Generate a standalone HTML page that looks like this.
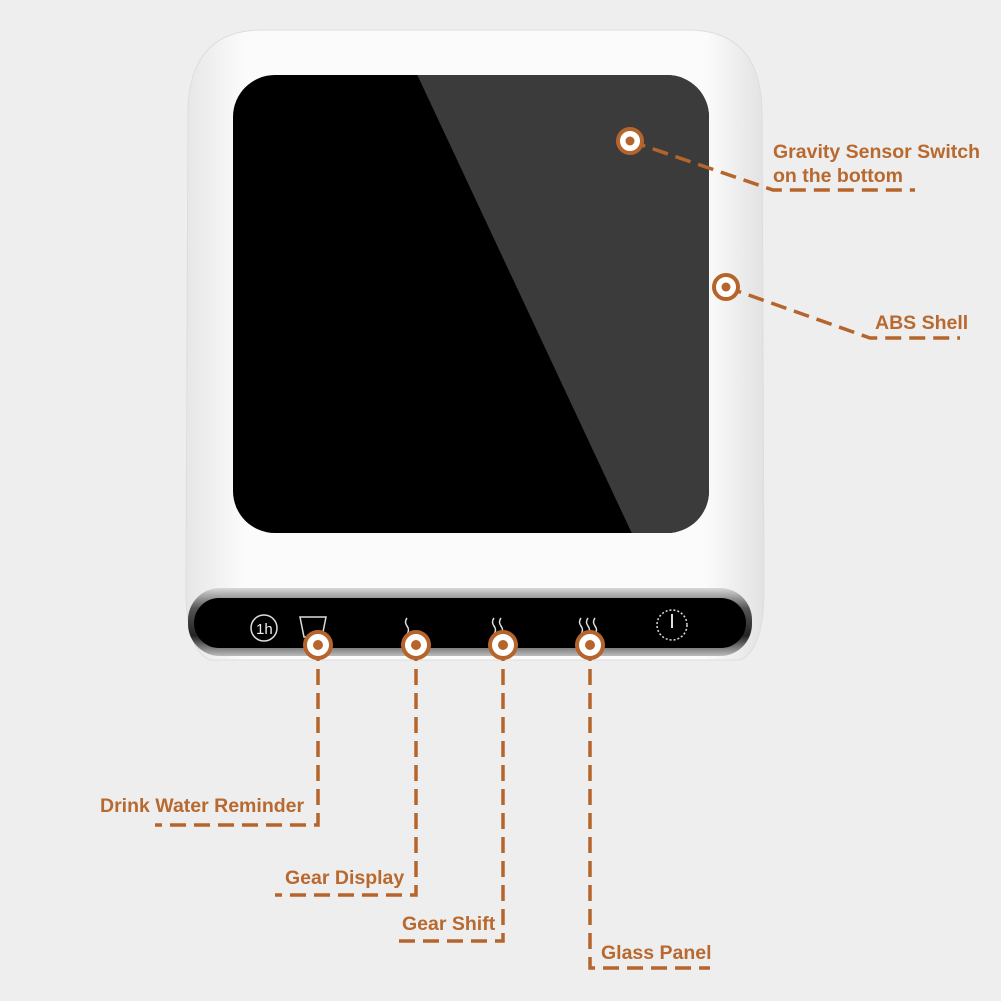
<!DOCTYPE html>
<html><head><style>body{margin:0;background:#eeeeee}svg{display:block}</style></head><body>
<svg width="1001" height="1001" viewBox="0 0 1001 1001" xmlns="http://www.w3.org/2000/svg">
<defs>
<linearGradient id="bd" x1="0" y1="0" x2="1" y2="0"><stop offset="0" stop-color="#e6e6e6"/><stop offset="0.1" stop-color="#fbfbfb"/><stop offset="0.9" stop-color="#fbfbfb"/><stop offset="1" stop-color="#e2e2e2"/></linearGradient>
<linearGradient id="ch" x1="0" y1="0" x2="0" y2="1"><stop offset="0" stop-color="#d8d8d8"/><stop offset="0.3" stop-color="#555"/><stop offset="0.7" stop-color="#222"/><stop offset="1" stop-color="#bbb"/></linearGradient>
<clipPath id="gc"><rect x="233" y="75" width="476" height="458" rx="42"/></clipPath>
</defs>
<rect width="1001" height="1001" fill="#eeeeee"/>
<path d="M262 30 H688 Q760 30 762 110 L764 590 Q764 650 740 660 H210 Q186 650 186 590 L188 110 Q190 30 262 30 Z" fill="url(#bd)" stroke="#ddd"/>
<rect x="233" y="75" width="476" height="458" rx="42" fill="#000"/>
<polygon clip-path="url(#gc)" points="415,70 720,70 720,540 635,540" fill="#3b3b3b"/>
<rect x="188" y="588" width="564" height="68" rx="32" fill="url(#ch)"/>
<rect x="194" y="598" width="552" height="50" rx="25" fill="#000"/>
<g fill="none" stroke="#ddd" stroke-width="1.5" font-family="Liberation Sans,sans-serif">
<circle cx="264" cy="628" r="13"/>
<text x="256" y="634" font-size="15" fill="#eee" stroke="none">1h</text>
<path d="M300 617 H326 L322 637 H304 Z"/>
<path d="M407 618 q-3 4 0 8 q3 4 0 8"/>
<path d="M494 618 q-3 4 0 8 q3 4 0 8 M501 618 q-3 4 0 8 q3 4 0 8"/>
<path d="M581 618 q-3 4 0 8 q3 4 0 8 M588 618 q-3 4 0 8 q3 4 0 8 M595 618 q-3 4 0 8 q3 4 0 8"/>
<circle cx="672" cy="625" r="15" stroke-dasharray="2 2"/>
<line x1="672" y1="614" x2="672" y2="628" stroke-width="2"/>
</g>
<g fill="none" stroke="#b5652b" stroke-width="3.5" stroke-dasharray="16 8">
<path d="M630 141 L773 190 H915"/>
<path d="M726 287 L870 338 H960"/>
<path d="M318 645 V825 H155"/>
<path d="M416 645 V895 H275"/>
<path d="M503 645 V941 H395"/>
<path d="M590 645 V968 H710"/>
</g>
<g stroke="#b5652b" stroke-width="4" fill="#fff">
<circle cx="630" cy="141" r="12"/><circle cx="726" cy="287" r="12"/>
<circle cx="318" cy="645" r="13"/><circle cx="416" cy="645" r="13"/><circle cx="503" cy="645" r="13"/><circle cx="590" cy="645" r="13"/>
</g>
<g fill="#b5652b"><circle cx="630" cy="141" r="4.5"/><circle cx="726" cy="287" r="4.5"/><circle cx="318" cy="645" r="5"/><circle cx="416" cy="645" r="5"/><circle cx="503" cy="645" r="5"/><circle cx="590" cy="645" r="5"/></g>
<g fill="#b8692f" font-family="Liberation Sans,sans-serif" font-weight="bold" font-size="19.5">
<text x="773" y="158">Gravity Sensor Switch</text>
<text x="773" y="182">on the bottom</text>
<text x="875" y="329">ABS Shell</text>
<text x="100" y="812">Drink Water Reminder</text>
<text x="285" y="884">Gear Display</text>
<text x="402" y="930">Gear Shift</text>
<text x="601" y="959">Glass Panel</text>
</g>
</svg>
</body></html>
